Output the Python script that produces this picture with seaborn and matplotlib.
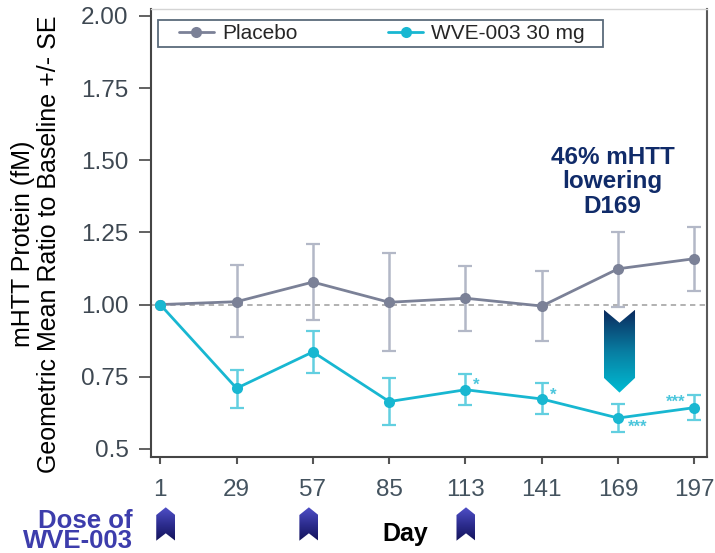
import numpy as np
import pandas as pd
import matplotlib
matplotlib.use("Agg")
import matplotlib.pyplot as plt
import seaborn as sns
from matplotlib.patches import Polygon, Rectangle
from matplotlib.colors import LinearSegmentedColormap
from matplotlib.lines import Line2D

# ---------------- data ----------------
days = [1, 29, 57, 85, 113, 141, 169, 197]
placebo = [1.00, 1.010, 1.078, 1.008, 1.022, 0.995, 1.124, 1.159]
placebo_hi = [1.00, 1.137, 1.209, 1.178, 1.134, 1.117, 1.251, 1.270]
placebo_lo = [1.00, 0.886, 0.947, 0.840, 0.910, 0.875, 0.993, 1.048]
wve = [1.00, 0.710, 0.836, 0.664, 0.705, 0.673, 0.607, 0.643]
wve_hi = [1.00, 0.774, 0.910, 0.745, 0.759, 0.730, 0.655, 0.687]
wve_lo = [1.00, 0.643, 0.762, 0.583, 0.653, 0.620, 0.558, 0.601]
groups = ["Placebo", "WVE-003 30 mg"]
ytick_vals = [2.0, 1.75, 1.5, 1.25, 1.0, 0.75, 0.5]
ytick_labels = ["2.00", "1.75", "1.50", "1.25", "1.00", "0.75", "0.5"]
dose_days = [1, 57, 113]
sig_days = [113, 141, 169, 197]
sig_marks = ["*", "*", "***", "***"]
callout = "46% mHTT\nlowering\nD169"
dose_label = "Dose of\nWVE-003"

# ---------------- style ----------------
sns.set_style("ticks")
plt.rcParams["font.family"] = ["Liberation Sans", "DejaVu Sans"]

C_PLA = "#7b8197"
C_PLA_ERR = "#b3b8c7"
C_WVE = "#18b7d1"
C_WVE_ERR = "#62cfe0"

W, H = 715, 553
fig = plt.figure(figsize=(W / 100, H / 100), dpi=100)
ax_l, ax_r, ax_t, ax_b = 150.7, 706.7, 9.0, 456.7
ax = fig.add_axes([ax_l / W, 1 - ax_b / H, (ax_r - ax_l) / W, (ax_b - ax_t) / H])

df = pd.DataFrame({
    "day": days * 2,
    "ratio": placebo + wve,
    "group": [groups[0]] * len(days) + [groups[1]] * len(days),
})

ax.axhline(1.0, ls=(0, (3.5, 2.8)), lw=1.1, color="#9c9c9c", zorder=1)

ax.errorbar(days[1:], placebo[1:],
            yerr=[np.array(placebo[1:]) - np.array(placebo_lo[1:]),
                  np.array(placebo_hi[1:]) - np.array(placebo[1:])],
            fmt="none", ecolor=C_PLA_ERR, elinewidth=1.8, capsize=4.8, capthick=1.6, zorder=1.5)
ax.errorbar(days[1:], wve[1:],
            yerr=[np.array(wve[1:]) - np.array(wve_lo[1:]),
                  np.array(wve_hi[1:]) - np.array(wve[1:])],
            fmt="none", ecolor=C_WVE_ERR, elinewidth=1.8, capsize=4.8, capthick=1.6, zorder=1.5)

sns.lineplot(data=df, x="day", y="ratio", hue="group", hue_order=groups,
             palette=[C_PLA, C_WVE], marker="o", markersize=8, markeredgewidth=0,
             linewidth=2.0, errorbar=None, legend=False, ax=ax, zorder=3)

ax.set_xticks(days)
ax.set_xticklabels([str(d) for d in days])
ax.set_yticks(ytick_vals)
ax.set_yticklabels(ytick_labels)
ax.set_xlabel("")
ax.set_ylabel("")

ax.tick_params(axis="y", length=8.4, width=1.3, pad=7.5, labelsize=17.5,
               color="#555555", labelcolor="#3e4852")
ax.tick_params(axis="x", length=4.7, width=1.5, pad=11, labelsize=17.5,
               color="#555555", labelcolor="#44535f")

for s in ["left", "bottom"]:
    ax.spines[s].set_color("#454545")
    ax.spines[s].set_linewidth(1.5)
ax.spines["right"].set_color("#5a5a5a")
ax.spines["right"].set_linewidth(1.5)
ax.spines["top"].set_color("#d4d4d4")
ax.spines["top"].set_linewidth(1.0)

# significance marks
sig_vals = dict(zip(days, wve))
sig_dx = [3.9, 4.0, 7.3, -6.9]
sig_dy = [0.032, 0.032, -0.013, 0.036]
for d, m, dx, dy in zip(sig_days, sig_marks, sig_dx, sig_dy):
    ax.annotate(m, xy=(d + dx, sig_vals[d] + dy), xytext=(0, -7), textcoords="offset points",
                ha="center", va="baseline", fontsize=12, fontweight="bold", color="#4cc6dc")

# legend (frame drawn separately)
handles = [Line2D([], [], color=C_PLA, lw=2.0, marker="o", markersize=8, markeredgewidth=0),
           Line2D([], [], color=C_WVE, lw=2.0, marker="o", markersize=8, markeredgewidth=0)]
ax.add_patch(Rectangle((0.0131, 0.9151), 0.8004, 0.0603, transform=ax.transAxes,
                       facecolor="white", edgecolor="#5b6b7b", lw=1.3, zorder=4))
leg = ax.legend(handles, groups, loc="center left", bbox_to_anchor=(0.0509, 0.9453),
                ncol=2, frameon=False, fontsize=15, borderpad=0, borderaxespad=0,
                handlelength=1.67, handletextpad=0.4, columnspacing=4.35)
leg.set_zorder(5)

# call-out text
ax.text(167, 1.425, callout, ha="center", va="center", multialignment="center",
        fontsize=17.5, fontweight="bold", color="#102b69", linespacing=1.08, zorder=5)


def grad_fill(a, verts, colors, y_top, y_bot):
    """Fill polygon with a vertical gradient: colors[0] at y_top, colors[-1] at y_bot."""
    poly = Polygon(verts, closed=True, facecolor="none", edgecolor="none", transform=a.transData)
    a.add_patch(poly)
    xs = [v[0] for v in verts]
    cmap = LinearSegmentedColormap.from_list("g", colors)
    grad = np.linspace(0, 1, 256).reshape(-1, 1)
    im = a.imshow(grad, cmap=cmap, aspect="auto", origin="upper", interpolation="bilinear",
                  extent=(min(xs), max(xs), y_bot, y_top), zorder=2)
    im.set_clip_path(poly)
    return im


# big lowering arrow at day 169 (data coords)
xc, hw = 169.5, 5.7
top, notch, shoulder, tip = 0.982, 0.937, 0.746, 0.695
big = [(xc - hw, top), (xc, notch), (xc + hw, top), (xc + hw, shoulder), (xc, tip), (xc - hw, shoulder)]
grad_fill(ax, big, ["#0b2a5e", "#087ea2", "#00bcd3"], top, tip)
ax.set_xlim(-2.5, 201.5)
ax.set_ylim(0.473, 2.024)

# overlay in pixel coordinates for elements outside the axes
ov = fig.add_axes([0, 0, 1, 1])
ov.axis("off")
ov.patch.set_alpha(0)

dose_off = [5.5, -4.0, 0.5]
for d, off in zip(dose_days, dose_off):
    cx = ax.transData.transform((d, 1.0))[0] + off
    hwp = 9.5
    verts = [(cx - hwp, 515), (cx, 507.3), (cx + hwp, 515), (cx + hwp, 540.7), (cx, 533.3), (cx - hwp, 540.7)]
    grad_fill(ov, verts, ["#5050c8", "#2d2d90", "#14145a"], 507.3, 540.7)
ov.set_xlim(0, W)
ov.set_ylim(H, 0)

ov.text(132.5, 548.5, dose_label, ha="right", va="baseline", multialignment="right",
        fontsize=18.5, fontweight="bold", color="#3d3dac", linespacing=0.84)
ov.text(405.5, 540.7, "Day", ha="center", va="baseline", fontsize=18, fontweight="bold", color="black")

fig.text(36 / W, 1 - 244 / H, "mHTT Protein (fM)\nGeometric Mean Ratio to Baseline +/- SE",
         rotation=90, ha="center", va="center", multialignment="center",
         fontsize=18, color="black", linespacing=1.1)

fig.savefig("out.png", dpi=100)
